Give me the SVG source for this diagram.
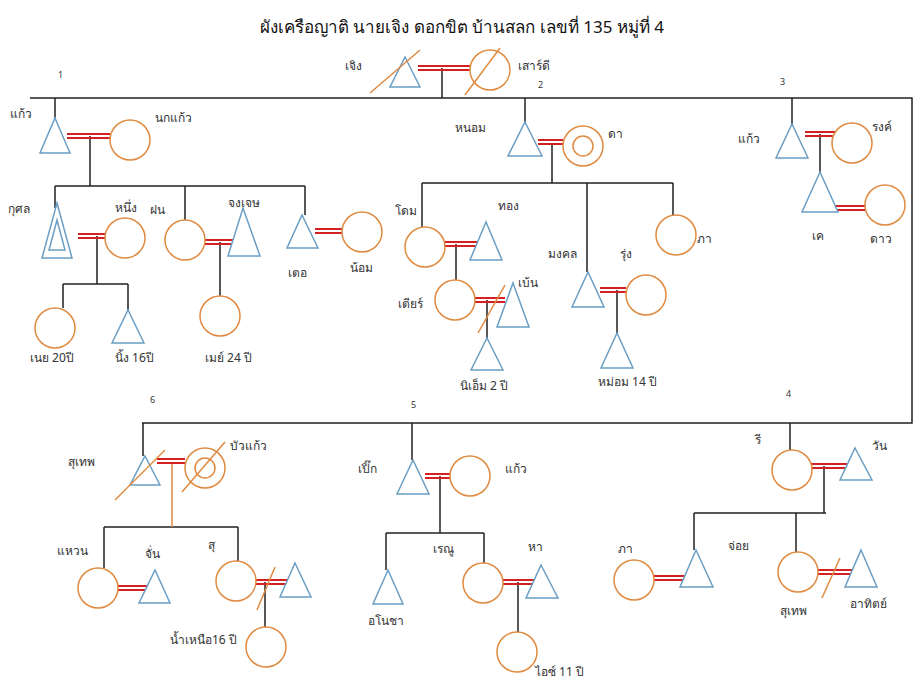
<svg xmlns="http://www.w3.org/2000/svg" width="924" height="685" viewBox="0 0 924 685">
<style>
.m{fill:#fff;stroke:#6a9ec4;stroke-width:1.5}
.f{fill:#fff;stroke:#e08a40;stroke-width:1.5}
.l{stroke:#222;stroke-width:1.5;fill:none}
.r{stroke:#d42020;stroke-width:2}
.x{stroke:#e08a40;stroke-width:1.5}
text{font-family:"Noto Sans","DejaVu Sans",sans-serif;font-size:12px;fill:#333}
.t{font-size:17px;fill:#111;text-anchor:middle;font-weight:normal}
.n{font-size:9px}
</style>
<rect width="924" height="685" fill="#fff"/>
<text class="t" x="462" y="33">ผังเครือญาติ  นายเจิง   ดอกขิต  บ้านสลก เลขที่ 135 หมู่ที่ 4</text>
<text class="n" x="58" y="78">1</text><text class="n" x="538" y="88">2</text><text class="n" x="780" y="85">3</text>
<text class="n" x="150" y="403">6</text><text class="n" x="411" y="408">5</text><text class="n" x="786" y="397">4</text>
<g id="connectors">
<path class="l" d="M30 98 H912 V423 H142 M442 68 V98"/>
<path class="l" d="M55 98 V118 M90 136 V186 M55 186 H305 M55 186 V208 M185 186 V220 M305 186 V215 M97 236 V284 M63 284 H128 M63 284 V308 M128 284 V310 M220 242 V296"/>
<path class="l" d="M525 98 V122 M552 144 V183 M422 183 H673 M422 183 V227 M587 183 V272 M673 183 V215 M456 244 V280 M487 300 V338 M617 290 V333"/>
<path class="l" d="M792 98 V124 M820 134 V172"/>
<path class="l" d="M143 423 V456 M104 527 H238 M104 527 V568 M238 527 V561 M265 582 V627"/>
<path d="M172 462 V527" stroke="#e08a40" stroke-width="1.5"/>
<path class="l" d="M412 423 V460 M440 476 V533 M386 533 H484 M386 533 V570 M484 533 V563 M518 582 V632"/>
<path class="l" d="M790 423 V450 M824 466 V513 M694 513 H826 M694 513 V550 M796 513 V552"/>
<g class="r">
<path d="M418 66 H470 M418 70 H470"/>
<path d="M67 134 H110 M67 138 H110 M78 234 H105 M78 238 H105 M205 240 H237 M205 244 H237 M315 229 H342 M315 233 H342"/>
<path d="M538 140 H563 M538 144 H563 M443 242 H477 M443 246 H477 M475 298 H505 M475 302 H505 M600 288 H626 M600 292 H626"/>
<path d="M805 132 H840 M805 136 H840 M832 206 H865 M832 210 H865"/>
<path d="M157 459 H185 M157 463 H185 M118 586 H150 M118 590 H150 M255 580 H289 M255 584 H289"/>
<path d="M425 474 H450 M425 478 H450 M503 580 H535 M503 584 H535"/>
<path d="M808 464 H848 M808 468 H848 M654 576 H690 M654 580 H690 M818 570 H853 M818 574 H853"/>
</g>
</g>
<g id="jeng"><polygon class="m" points="405,57 420,87 390,87"/><line class="x" x1="370" y1="93" x2="420" y2="50"/><text x="345" y="70">เจิง</text></g>
<g id="sao"><circle class="f" cx="490" cy="70" r="20"/><line class="x" x1="465" y1="95" x2="500" y2="48"/><text x="518" y="70">เสาร์ดี</text></g>
<g id="kaew1"><polygon class="m" points="55,118 70,153 40,153"/><text x="10" y="118">แก้ว</text></g>
<g id="nokkaew"><circle class="f" cx="130" cy="140" r="20"/><text x="155" y="122">นกแก้ว</text></g>
<g id="kusol"><polygon class="m" points="57,203 72,258 42,258"/><polygon class="m" points="57,220 65,250 49,250"/><text x="8" y="213">กุศล</text></g>
<g id="nueng"><circle class="f" cx="125" cy="238" r="20"/><text x="115" y="212">หนึ่ง</text></g>
<g id="fon"><circle class="f" cx="185" cy="240" r="20"/><text x="150" y="214">ฝน</text></g>
<g id="jongjet"><polygon class="m" points="243,208 260,256 228,256"/><text x="228" y="207">จงเจษ</text></g>
<g id="toe"><polygon class="m" points="302,215 318,248 287,248"/><text x="288" y="277">เตอ</text></g>
<g id="nom"><circle class="f" cx="362" cy="232" r="20"/><text x="350" y="272">น้อม</text></g>
<g id="noei"><circle class="f" cx="55" cy="328" r="20"/><text x="30" y="362">เนย 20ปี</text></g>
<g id="ning"><polygon class="m" points="128,310 144,343 112,343"/><text x="115" y="362">นิ้ง 16ปี</text></g>
<g id="may"><circle class="f" cx="220" cy="316" r="20"/><text x="205" y="362">เมย์ 24 ปี</text></g>
<g id="nom2"><polygon class="m" points="525,122 542,156 508,156"/><text x="455" y="132">หนอม</text></g>
<g id="da"><circle class="f" cx="583" cy="146" r="20"/><circle class="f" cx="583" cy="146" r="10"/><text x="608" y="138">ดา</text></g>
<g id="dom"><circle class="f" cx="425" cy="247" r="20"/><text x="395" y="215">โดม</text></g>
<g id="thong"><polygon class="m" points="486,222 502,260 470,260"/><text x="498" y="210">ทอง</text></g>
<g id="tia"><circle class="f" cx="455" cy="300" r="20"/><text x="398" y="308">เตียร์</text></g>
<g id="ben"><polygon class="m" points="513,283 529,327 497,327"/><line class="x" x1="478" y1="333" x2="505" y2="285"/><text x="518" y="287">เบ้น</text></g>
<g id="niem"><polygon class="m" points="487,338 503,370 471,370"/><text x="460" y="390">นิเอ็ม 2 ปี</text></g>
<g id="mongkol"><polygon class="m" points="588,272 604,307 572,307"/><text x="548" y="258">มงคล</text></g>
<g id="rung"><circle class="f" cx="646" cy="295" r="20"/><text x="620" y="258">รุ่ง</text></g>
<g id="mom"><polygon class="m" points="617,333 633,368 601,368"/><text x="598" y="386">หม่อม 14 ปี</text></g>
<g id="pha1"><circle class="f" cx="676" cy="235" r="20"/><text x="697" y="243">ภา</text></g>
<g id="kaew3"><polygon class="m" points="792,124 808,158 776,158"/><text x="738" y="143">แก้ว</text></g>
<g id="rong"><circle class="f" cx="852" cy="143" r="20"/><text x="872" y="131">รงค์</text></g>
<g id="ke"><polygon class="m" points="820,172 838,212 802,212"/><text x="812" y="240">เค</text></g>
<g id="dao"><circle class="f" cx="885" cy="205" r="20"/><text x="870" y="243">ดาว</text></g>
<g id="suthep1"><polygon class="m" points="145,456 160,485 130,485"/><line class="x" x1="115" y1="500" x2="165" y2="450"/><text x="68" y="466">สุเทพ</text></g>
<g id="buakaew"><circle class="f" cx="205" cy="468" r="20"/><circle class="f" cx="205" cy="468" r="10"/><line class="x" x1="182" y1="492" x2="225" y2="442"/><text x="230" y="450">บัวแก้ว</text></g>
<g id="waen"><circle class="f" cx="98" cy="588" r="20"/><text x="57" y="555">แหวน</text></g>
<g id="jan"><polygon class="m" points="155,570 170,603 139,603"/><text x="145" y="558">จั่น</text></g>
<g id="su"><circle class="f" cx="236" cy="581" r="20"/><text x="208" y="549">สุ</text></g>
<g id="su_h"><polygon class="m" points="295,563 311,597 280,597"/><line class="x" x1="257" y1="610" x2="275" y2="567"/></g>
<g id="namnuea"><circle class="f" cx="266" cy="647" r="20"/><text x="170" y="644">น้ำเหนือ16 ปี</text></g>
<g id="pik"><polygon class="m" points="413,460 429,494 397,494"/><text x="358" y="473">เปิ๊ก</text></g>
<g id="kaew5"><circle class="f" cx="470" cy="476" r="20"/><text x="505" y="473">แก้ว</text></g>
<g id="anocha"><polygon class="m" points="388,570 403,604 373,604"/><text x="368" y="625">อโนชา</text></g>
<g id="renu"><circle class="f" cx="483" cy="583" r="20"/><text x="433" y="553">เรณู</text></g>
<g id="ha"><polygon class="m" points="541,565 558,598 526,598"/><text x="528" y="551">หา</text></g>
<g id="ice"><circle class="f" cx="517" cy="652" r="20"/><text x="535" y="676">ไอซ์  11 ปี</text></g>
<g id="ri"><circle class="f" cx="792" cy="470" r="20"/><text x="755" y="444">รี</text></g>
<g id="wan"><polygon class="m" points="855,448 872,480 840,480"/><text x="872" y="450">วัน</text></g>
<g id="pha2"><circle class="f" cx="634" cy="580" r="20"/><text x="618" y="553">ภา</text></g>
<g id="joi"><polygon class="m" points="696,550 713,587 680,587"/><text x="728" y="550">จ่อย</text></g>
<g id="suthep2"><circle class="f" cx="798" cy="572" r="20"/><line class="x" x1="822" y1="598" x2="840" y2="558"/><text x="780" y="615">สุเทพ</text></g>
<g id="athit"><polygon class="m" points="861,550 877,587 845,587"/><text x="850" y="608">อาทิตย์</text></g>
</svg>
